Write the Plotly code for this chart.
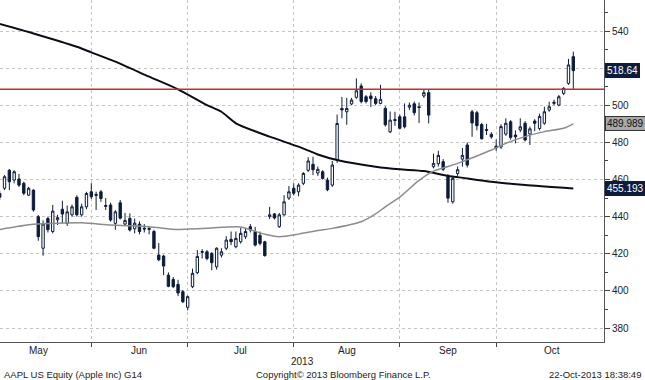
import plotly.graph_objects as go

# ---- data (trading-day index 0 = 3 May 2013, 119 = 22 Oct 2013) ----
opens = [452.5, 455.3, 465.0, 459.7, 460.3, 458.0, 451.6, 454.3, 440.0, 423.0,
         439.0, 432.0, 438.3, 444.0, 436.4, 441.0, 450.4, 441.0, 445.3, 453.4,
         452.0, 453.4, 446.0, 446.3, 436.4, 447.5, 436.0, 439.1, 433.5, 436.0,
         433.8, 433.6, 432.0, 419.3, 418.8, 408.5, 406.2, 403.5, 399.6, 391.2,
         402.3, 409.8, 421.2, 421.1, 420.2, 413.0, 419.3, 423.0, 427.8, 423.8,
         426.5, 429.2, 434.6, 432.0, 430.0, 426.5, 440.0, 441.5, 434.6, 441.0,
         450.0, 455.3, 453.4, 458.0, 465.0, 468.2, 463.5, 464.2, 459.7, 457.0,
         470.5, 498.3, 496.5, 500.7, 504.3, 510.4, 504.6, 505.0, 503.5, 501.0,
         498.3, 485.7, 492.3, 493.8, 493.8, 499.0, 500.8, 499.2, 505.0, 506.8,
         466.9, 468.5, 469.6, 461.5, 448.0, 463.3, 471.0, 478.6, 496.5, 496.0,
         489.6, 487.0, 484.4, 478.0, 477.5, 484.5, 491.1, 484.0, 486.7, 490.3,
         484.5, 491.5, 487.5, 490.3, 497.4, 501.0, 500.1, 506.4, 511.8, 526.2]
highs = [454.0, 462.4, 465.7, 465.0, 463.0, 458.8, 456.1, 454.7, 440.9, 438.0,
         440.0, 446.3, 441.0, 448.6, 446.0, 446.5, 451.5, 447.0, 453.4, 458.0,
         453.5, 454.3, 450.0, 447.5, 443.5, 449.0, 442.0, 441.8, 439.0, 437.5,
         436.0, 435.0, 433.0, 425.8, 419.5, 410.0, 407.5, 406.0, 400.5, 397.5,
         412.0, 422.0, 422.5, 422.0, 421.0, 423.5, 423.0, 429.5, 432.0, 432.0,
         434.0, 434.0, 436.0, 434.5, 432.0, 427.0, 445.3, 442.0, 442.0, 451.6,
         456.5, 458.0, 458.0, 464.0, 472.0, 472.3, 467.0, 465.0, 461.0, 470.0,
         495.0, 504.5, 504.0, 504.0, 514.5, 511.8, 505.5, 507.0, 505.0, 511.0,
         499.5, 496.6, 496.5, 495.0, 501.0, 501.5, 502.0, 501.5, 508.5, 508.5,
         474.0, 475.5, 471.0, 463.0, 462.0, 467.0, 477.0, 480.0, 497.5, 497.0,
         490.5, 490.0, 485.5, 481.5, 489.8, 493.0, 492.0, 486.5, 493.0, 491.5,
         488.5, 492.5, 495.5, 499.2, 501.9, 503.0, 505.5, 509.8, 525.0, 528.9]
lows = [449.0, 454.3, 454.3, 458.0, 456.0, 451.6, 451.1, 442.7, 427.0, 419.0,
        431.5, 431.0, 435.5, 436.5, 435.0, 440.0, 440.0, 440.0, 444.0, 449.5,
        443.6, 448.0, 443.6, 437.3, 433.0, 438.5, 435.0, 432.0, 431.0, 430.5,
        431.5, 430.5, 422.5, 416.0, 408.5, 402.0, 401.5, 397.2, 393.5, 389.5,
        401.5, 409.0, 417.5, 416.5, 411.2, 411.5, 418.0, 422.0, 424.7, 423.0,
        425.5, 428.0, 431.5, 424.0, 424.5, 418.5, 438.7, 438.5, 434.0, 440.5,
        449.0, 451.5, 451.0, 457.0, 464.0, 462.4, 462.0, 460.0, 453.7, 456.0,
        469.0, 493.0, 489.5, 500.0, 503.5, 501.0, 501.0, 499.0, 500.0, 500.5,
        488.5, 485.0, 489.0, 487.0, 487.5, 497.5, 494.5, 490.5, 504.0, 490.2,
        466.0, 467.0, 464.5, 447.5, 447.0, 461.5, 467.0, 466.5, 483.0, 486.5,
        481.5, 484.0, 482.0, 475.5, 476.5, 483.5, 481.5, 479.5, 485.5, 480.5,
        478.6, 486.0, 486.5, 489.5, 496.5, 500.0, 499.5, 505.5, 511.0, 508.8]
closes = [450.5, 461.5, 458.8, 464.2, 457.0, 452.6, 455.3, 443.6, 429.2, 436.0,
          433.0, 443.0, 439.5, 441.4, 442.6, 445.3, 441.0, 445.3, 452.5, 450.7,
          451.5, 449.8, 445.6, 438.2, 442.6, 439.2, 438.0, 432.8, 436.5, 432.0,
          433.4, 433.2, 423.0, 416.8, 413.4, 402.5, 402.3, 398.9, 394.2, 396.9,
          409.5, 418.6, 420.9, 417.5, 415.2, 423.0, 421.1, 427.4, 426.5, 428.3,
          431.0, 432.0, 432.8, 424.7, 425.6, 419.0, 441.0, 439.3, 441.0, 448.0,
          453.4, 452.6, 457.0, 463.3, 470.0, 465.3, 465.5, 460.6, 454.5, 467.8,
          490.2, 497.5, 498.3, 502.8, 507.8, 502.0, 502.0, 503.5, 501.0, 503.2,
          489.5, 492.0, 491.8, 487.6, 488.4, 500.0, 496.0, 498.8, 506.8, 494.7,
          468.7, 473.0, 465.5, 450.0, 460.6, 465.3, 473.0, 467.8, 490.5, 489.0,
          482.0, 486.5, 483.0, 477.0, 488.5, 490.3, 482.7, 483.0, 488.4, 481.3,
          487.3, 490.3, 494.0, 496.5, 499.2, 501.6, 504.6, 509.1, 521.7, 518.64]

# moving averages, sampled points (trading-day index, value)
ma200_idx = [0, 7, 16, 19, 24, 31, 37, 43, 46, 49, 56, 62, 66, 70, 78, 83, 88, 93, 95, 102, 109, 119]
ma200_val = [543.8, 538.7, 531.5, 528.5, 523.5, 515.4, 508.6, 500.1, 496.5, 490.3, 483.1,
             477.7, 473.5, 470.5, 466.9, 465.5, 464.6, 461.9, 461.3, 458.8, 457.0, 455.193]
ma50_idx = [0, 7, 17, 23, 31, 37, 43, 46, 50, 55, 58, 62, 66, 69, 75, 78, 80, 83, 87, 90,
            93, 95, 102, 105, 109, 113, 117, 119]
ma50_val = [433.1, 435.9, 436.7, 435.5, 434.6, 433.1, 433.7, 434.3, 434.5, 430.5, 429.2,
            430.6, 432.5, 433.7, 437.3, 441.5, 445.3, 450.5, 459.5, 464.5, 467.0, 468.7,
            475.9, 479.5, 483.1, 485.8, 487.6, 489.989]

resistance = 508.6
last_price = 518.64
ma50_last = 489.989
ma200_last = 455.193

month_names = ["May", "Jun", "Jul", "Aug", "Sep", "Oct"]
month_label_pos = [8, 29, 50, 72, 93, 114.5]
month_end_idx = [19, 39, 61, 83, 103]
y_ticks = [380, 400, 420, 440, 460, 480, 500, 520, 540]
y_tick_text = ["380", "400", "420", "440", "460", "480", "500", "", "540"]  # 520 hidden under the price box

NAVY = "#0e1c3c"
FONT = "Liberation Sans"

days = list(range(len(opens)))

fig = go.Figure()
fig.add_trace(go.Scatter(x=ma200_idx, y=ma200_val, mode="lines",
                         line=dict(color="#0c0c16", width=2, shape="spline", smoothing=0.6),
                         hoverinfo="skip"))
fig.add_trace(go.Scatter(x=ma50_idx, y=ma50_val, mode="lines",
                         line=dict(color="#8c8c8c", width=1.5, shape="spline", smoothing=0.6),
                         hoverinfo="skip"))
fig.add_trace(go.Candlestick(x=days, open=opens, high=highs, low=lows, close=closes,
                             increasing=dict(line=dict(color=NAVY, width=1), fillcolor="white"),
                             decreasing=dict(line=dict(color=NAVY, width=1), fillcolor=NAVY),
                             whiskerwidth=0))

fig.add_shape(type="line", xref="paper", x0=0, x1=1, yref="y", y0=resistance, y1=resistance,
              line=dict(color="#cc2b2b", width=1.5))

annotations = []
for name, pos in zip(month_names, month_label_pos):
    annotations.append(dict(x=pos, xref="x", y=0, yref="paper", yanchor="middle", yshift=-8,
                            text=name, showarrow=False, font=dict(family=FONT, size=10, color="#222")))
annotations.append(dict(x=302 / 604, xref="paper", y=0, yref="paper", yanchor="middle", yshift=-19,
                        text="2013", showarrow=False, font=dict(family=FONT, size=10, color="#222")))
annotations.append(dict(x=2 / 604, xref="paper", xanchor="left", y=0, yref="paper", yanchor="middle",
                        yshift=-32, text="AAPL US Equity (Apple Inc) G14", showarrow=False,
                        font=dict(family=FONT, size=9.5, color="#222")))
annotations.append(dict(x=343 / 604, xref="paper", xanchor="center", y=0, yref="paper", yanchor="middle",
                        yshift=-32, text="Copyright© 2013 Bloomberg Finance L.P.", showarrow=False,
                        font=dict(family=FONT, size=9.5, color="#222")))
annotations.append(dict(x=643 / 604, xref="paper", xanchor="right", y=0, yref="paper", yanchor="middle",
                        yshift=-32, text="22-Oct-2013 18:38:49", showarrow=False,
                        font=dict(family=FONT, size=9.5, color="#222")))
for val, txt, bg, fc, bc in [(last_price, "518.64", NAVY, "white", NAVY),
                             (ma50_last, "489.989", "#a9a9a9", "#111", "#333"),
                             (ma200_last, "455.193", NAVY, "white", NAVY)]:
    annotations.append(dict(x=1, xref="paper", xanchor="left", xshift=1, y=val, yref="y",
                            yanchor="middle", text=txt, showarrow=False, bgcolor=bg, bordercolor=bc,
                            borderwidth=1, borderpad=1, font=dict(family=FONT, size=10, color=fc)))

fig.update_layout(
    width=645, height=380,
    margin=dict(l=0, r=41, t=0, b=38),
    paper_bgcolor="white", plot_bgcolor="white",
    showlegend=False,
    annotations=annotations,
    font=dict(family=FONT, size=10, color="#222"),
    xaxis=dict(type="linear", range=[0.06, 125.37], tickvals=month_end_idx,
               ticktext=[""] * len(month_end_idx), ticks="outside", ticklen=4, tickcolor="#444",
               showgrid=True, gridcolor="#c4c4c4", griddash="dot", gridwidth=1,
               showline=True, linecolor="#555", linewidth=1, zeroline=False,
               rangeslider=dict(visible=False), fixedrange=True),
    yaxis=dict(side="right", range=[372.5, 556.7], tickvals=y_ticks, ticktext=y_tick_text,
               ticks="outside", ticklen=5,
               tickcolor="#444", showgrid=True, gridcolor="#c4c4c4", griddash="dot", gridwidth=1,
               showline=True, linecolor="#555", linewidth=1, zeroline=False, automargin=False,
               tickfont=dict(family=FONT, size=10, color="#222"),
               minor=dict(dtick=10, tick0=370, ticks="outside", ticklen=3, tickcolor="#444", showgrid=False)),
)

fig.write_html("out.html", config={"displayModeBar": False},
               post_script="document.body.style.margin='0';document.body.style.padding='0';"
                           "document.body.style.overflow='hidden';")
